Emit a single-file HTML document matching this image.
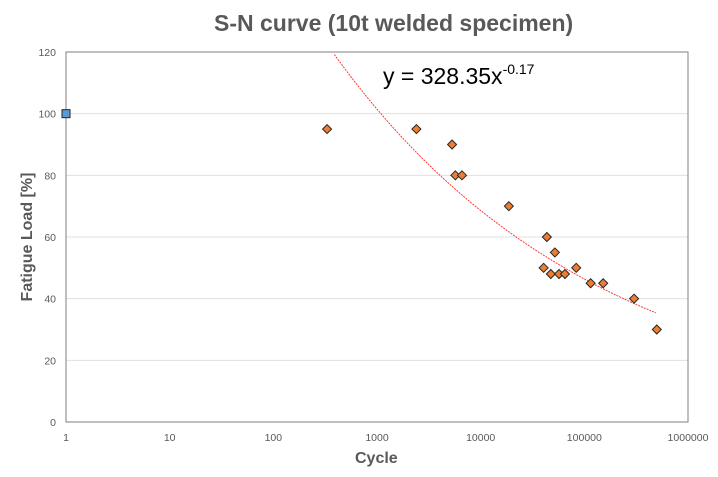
<!DOCTYPE html>
<html><head><meta charset="utf-8"><style>
body{margin:0;background:#fff;font-family:"Liberation Sans",sans-serif}
svg{display:block}
</style></head><body>
<svg id="c" width="718" height="477"></svg>
<script>
const cycles=[330,2400,5300,5700,6600,18700,43500,52000,40500,47500,57000,65000,83500,115000,152000,302000,500000];
const loads=[95,95,90,80,80,70,60,55,50,48,48,48,50,45,45,40,30];
const refCycles=[1];
const refLoads=[100];
const yTicks=[0,20,40,60,80,100,120];
const xTicks=[1,10,100,1000,10000,100000,1000000];
const fitA=328.35, fitB=-0.17, fitMin=1, fitMax=490000;

const NS="http://www.w3.org/2000/svg";
const svg=document.getElementById('c');
const L=66,R=688,T=52,B=422;
const X=v=>L+(Math.log10(v)/6)*(R-L);
const Y=v=>B-(v/120)*(B-T);
function el(t,a,txt){const e=document.createElementNS(NS,t);for(const k in a)e.setAttribute(k,a[k]);if(txt!==undefined)e.textContent=txt;svg.appendChild(e);return e;}

yTicks.forEach(v=>{
 if(v>0&&v<120){const g=el('line',{x1:L,x2:R,y1:Y(v),y2:Y(v),stroke:'#e0e0e0','stroke-width':1});
 
 }
 const t=el('text',{x:L-10,y:Y(v)+4,'text-anchor':'end','font-size':10.5,fill:'#595959'},v);
 
 
});
xTicks.forEach(v=>{
 const t=el('text',{x:X(v),y:441,'text-anchor':'middle','font-size':10.5,fill:'#595959'},v);
 
 
});
const fr=el('rect',{x:L,y:T,width:R-L,height:B-T,fill:'none',stroke:'#7f7f7f','stroke-width':1});



let pts=[];
for(let i=0;i<=200;i++){const lx=Math.log10(fitMin)+(Math.log10(fitMax)-Math.log10(fitMin))*i/200;const x=Math.pow(10,lx);const y=fitA*Math.pow(x,fitB);if(y<=120)pts.push(X(x).toFixed(1)+','+Y(y).toFixed(1));}
const tl=el('polyline',{points:pts.join(' '),fill:'none',stroke:'#ff3b3b','stroke-width':1,'stroke-dasharray':'2,1'});



cycles.forEach((c,i)=>{
 const x=X(c),y=Y(loads[i]),s=4.5;
 const p=el('polygon',{points:`${x},${y-s} ${x+s},${y} ${x},${y+s} ${x-s},${y}`,fill:'#ed7d31',stroke:'#262626','stroke-width':1});
 
 
});
refCycles.forEach((c,i)=>{
 const r=el('rect',{x:X(c)-4,y:Y(refLoads[i])-4,width:8,height:8,fill:'#5b9bd5',stroke:'#262626','stroke-width':1});
 
 
});
</script>
<div style="position:absolute;left:214px;top:10px;white-space:nowrap;font-size:23px;font-weight:bold;color:#595959">S-N curve (10t welded specimen)</div>
<div style="position:absolute;left:383px;top:63px;white-space:nowrap;font-size:23px;color:#000">y = 328.35x<sup style="font-size:14px;vertical-align:10px;line-height:0">-0.17</sup></div>
<div style="position:absolute;left:355px;top:450px;font-size:16px;font-weight:bold;color:#595959">Cycle</div>
<div style="position:absolute;left:28px;top:237px;transform:translate(-50%,-50%) rotate(-90deg);white-space:nowrap;font-size:16px;font-weight:bold;color:#595959">Fatigue Load [%]</div>
</body></html>
